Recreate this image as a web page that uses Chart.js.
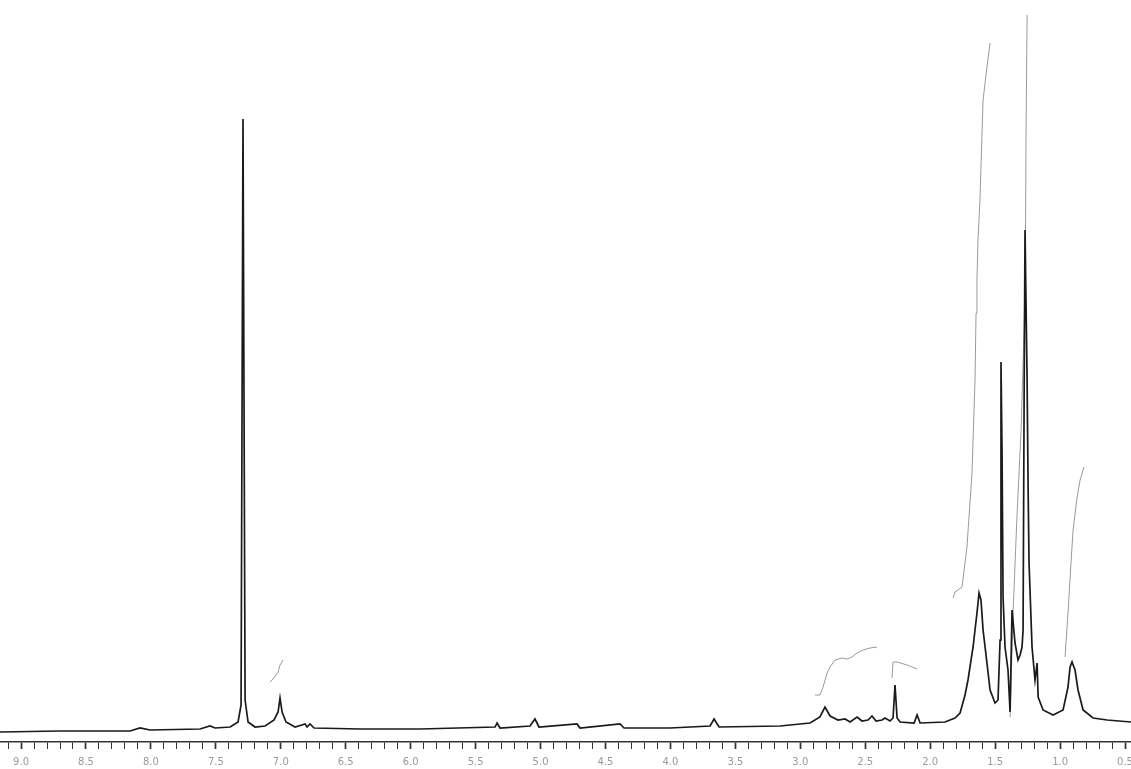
<!DOCTYPE html>
<html>
<head>
<meta charset="utf-8">
<script src="https://cdn.jsdelivr.net/npm/chart.js@4/dist/chart.umd.min.js"></script>
<style>
  html, body { margin: 0; padding: 0; background: #fff; }
  #wrap { width: 1131px; height: 769px; }
</style>
</head>
<body>
<div id="wrap"><canvas id="nmr"></canvas></div>
<script>
// 1H NMR trace (ppm, intensity above baseline)
const shiftPpm = [
  9.162, 8.70, 8.16, 8.084, 8.007, 7.622, 7.545, 7.506, 7.39, 7.329, 7.306, 7.291, 7.275, 7.252,
  7.198, 7.121, 7.052, 7.021, 7.006, 6.99, 6.96, 6.89, 6.813, 6.798, 6.775, 6.744, 6.39, 5.928,
  5.35, 5.335, 5.312, 5.081, 5.043, 5.012, 4.719, 4.696, 4.388, 4.357, 4.003, 3.695, 3.664, 3.626,
  3.156, 2.925, 2.849, 2.81, 2.771, 2.71, 2.656, 2.617, 2.563, 2.525, 2.479, 2.448, 2.417, 2.371,
  2.348, 2.309, 2.286, 2.271, 2.255, 2.232, 2.124, 2.101, 2.078, 1.886, 1.809, 1.77, 1.732, 1.709,
  1.67, 1.64, 1.624, 1.609, 1.593, 1.563, 1.539, 1.501, 1.478, 1.462, 1.455, 1.447, 1.439, 1.424,
  1.401, 1.385, 1.37, 1.347, 1.324, 1.308, 1.293, 1.285, 1.277, 1.27, 1.254, 1.246, 1.239, 1.216,
  1.193, 1.177, 1.169, 1.131, 1.054, 0.977, 0.939, 0.923, 0.908, 0.885, 0.862, 0.823, 0.746,
  0.638, 0.454
];
const intensity = [
  -2, -1, -1, 2, 0, 1, 4, 2, 3, 8, 25, 611, 30, 8,
  3, 4, 10, 18, 32, 18, 8, 3, 6, 3, 6, 2, 1, 1,
  3, 7, 2, 4, 11, 3, 6, 2, 6, 2, 2, 4, 11, 3,
  4, 7, 13, 23, 14, 10, 11, 8, 13, 9, 10, 14, 9, 10,
  12, 9, 12, 45, 12, 8, 7, 15, 7, 8, 12, 17, 35, 50,
  83, 117, 137, 130, 100, 67, 40, 27, 30, 90, 368, 280, 133, 83,
  60, 18, 120, 87, 70, 75, 83, 100, 330, 500, 350, 240, 167, 83,
  50, 67, 33, 20, 15, 20, 43, 63, 68, 60, 40, 20, 12,
  10, 8
];

// integral curves (ppm, height)
const integral70x = [7.083, 7.06, 7.021, 7.006, 6.983];
const integral70y = [48, 51, 58, 65, 70];
const integral27x = [2.887, 2.849, 2.825, 2.794, 2.771, 2.733, 2.679, 2.64, 2.602, 2.563, 2.517, 2.463, 2.409];
const integral27y = [35, 35, 43, 57, 63, 70, 72, 71, 73, 77, 80, 82, 83];
const integral22x = [2.294, 2.286, 2.255, 2.178, 2.101];
const integral22y = [52, 68, 68, 65, 61];
const integral16x = [1.824, 1.809, 1.755, 1.717, 1.678, 1.67, 1.655, 1.647, 1.64, 1.632, 1.617, 1.601, 1.593, 1.563, 1.539];
const integral16y = [132, 138, 143, 183, 257, 290, 350, 417, 450, 490, 530, 597, 630, 663, 687];
const integral13x = [1.385, 1.362, 1.331, 1.316, 1.3, 1.285, 1.277, 1.27, 1.266, 1.262, 1.254];
const integral13y = [13, 117, 217, 257, 300, 367, 400, 450, 500, 597, 715];
const integral09x = [0.962, 0.939, 0.916, 0.9, 0.869, 0.846, 0.816];
const integral09y = [73, 117, 167, 200, 233, 250, 263];

function pairs(xs, ys) {
  return xs.map((x, i) => ({ x: x, y: ys[i] }));
}

function integralSet(xs, ys) {
  return {
    data: pairs(xs, ys),
    borderColor: "#9a9a9a",
    borderWidth: 1,
    pointRadius: 0,
    tension: 0,
    clip: false,
  };
}

// true for the labelled ticks (every 0.5 ppm)
function isMajor(v) {
  return Math.abs(v * 2 - Math.round(v * 2)) < 1e-6;
}

const ctx = document.getElementById("nmr").getContext("2d");
new Chart(ctx, {
  type: "line",
  data: {
    datasets: [
      {
        data: pairs(shiftPpm, intensity),
        borderColor: "#1a1a1a",
        borderWidth: 1.7,
        pointRadius: 0,
        tension: 0,
        clip: false,
      },
      integralSet(integral70x, integral70y),
      integralSet(integral27x, integral27y),
      integralSet(integral22x, integral22y),
      integralSet(integral16x, integral16y),
      integralSet(integral13x, integral13y),
      integralSet(integral09x, integral09y),
    ],
  },
  options: {
    responsive: true,
    maintainAspectRatio: false,
    animation: false,
    layout: { padding: 0 },
    plugins: {
      legend: { display: false },
      tooltip: { enabled: false },
    },
    scales: {
      x: {
        type: "linear",
        reverse: true,
        min: 0.454,
        max: 9.162,
        afterFit: (scale) => {
          scale.height = 27;
          scale.paddingLeft = 0;
          scale.paddingRight = 0;
        },
        border: { display: true, color: "#333", width: 1.5 },
        grid: {
          drawOnChartArea: false,
          drawTicks: true,
          tickLength: 7,
          tickColor: "#333",
          tickWidth: (c) => (isMajor(c.tick.value) ? 1.7 : 1),
        },
        ticks: {
          stepSize: 0.1,
          includeBounds: false,
          autoSkip: false,
          maxRotation: 0,
          padding: 7,
          color: "#9a9a9a",
          font: { family: "DejaVu Sans", size: 10 },
          callback: (v) => (isMajor(v) ? Number(v).toFixed(1) : ""),
        },
      },
      y: {
        display: false,
        min: -12,
        max: 730,
      },
    },
  },
});
</script>
</body>
</html>
